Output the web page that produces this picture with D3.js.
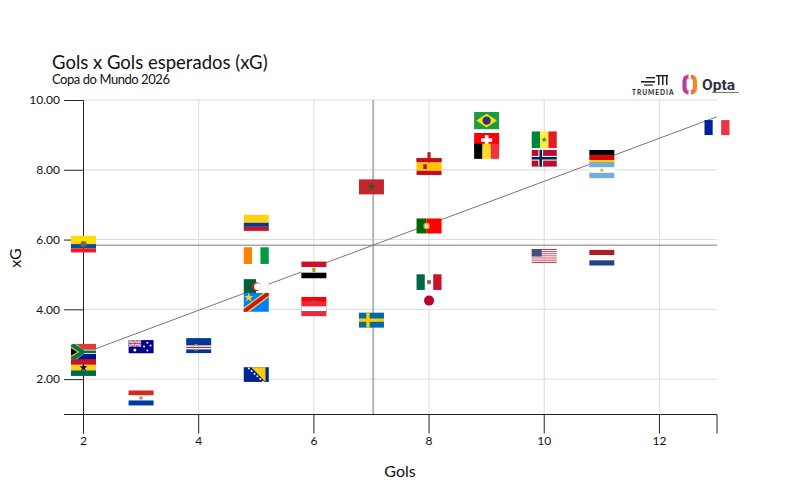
<!DOCTYPE html>
<html lang="pt">
<head>
<meta charset="utf-8">
<title>Gols x Gols esperados (xG)</title>
<script src="https://cdn.jsdelivr.net/npm/d3@7/dist/d3.min.js"></script>
<style>
  html, body { margin: 0; padding: 0; background: #fff; }
  svg { display: block; font-family: Lato, "Open Sans", sans-serif; }
  .axis text { font-family: Lato, "Open Sans", sans-serif; fill: #111; }
  .axis path, .axis line { stroke: #222; stroke-width: 1; }
</style>
</head>
<body>
<svg id="chart" width="800" height="500"></svg>
<script>
// Gols e xG por seleção, na ordem de desenho (as últimas ficam por cima)
const teams = ["Brasil","Suíça","Bélgica","Senegal","Noruega","Alemanha","Argentina","França",
  "Inglaterra","Espanha","Marrocos","Portugal","Colômbia","Equador","Costa do Marfim","Egito",
  "México","Japão","EUA","Holanda","Argélia","RD Congo","Croácia","Áustria","Suécia",
  "África do Sul","Gana","Austrália","Cabo Verde","Bósnia","Paraguai"];
const goals = [9,9,9,10,10,11,11,13,8,8,7,8,5,2,5,6,8,8,10,11,5,5,6,6,7,2,2,3,4,5,3];
const xGoals = [9.41,8.85,8.53,8.86,8.33,8.35,7.99,9.21,8.29,8.09,7.51,6.39,6.48,5.87,5.54,5.13,
  4.78,4.25,5.53,5.48,4.65,4.20,4.14,4.01,3.69,2.78,2.33,2.93,2.96,2.13,1.46];

const xTicks = [2,4,6,8,10,12];
const yTicks = [2,4,6,8,10];
const trendEnds = { goals: [2,13], xG: [2.74,9.52] };
const meanGoals = 7.03;
const meanXG = 5.84;

const svg = d3.select("#chart");
const x = d3.scaleLinear().domain([2,13]).range([83.5,717]);
const y = d3.scaleLinear().domain([1,10]).range([414,100]);

// Grade
const grid = svg.append("g").attr("stroke","#dcdcdc").attr("stroke-width",1);
grid.selectAll("line.v").data(xTicks.slice(1)).join("line")
  .attr("x1",d=>x(d)).attr("x2",d=>x(d)).attr("y1",y(10)).attr("y2",y(1));
grid.selectAll("line.h").data(yTicks).join("line")
  .attr("x1",x(2)).attr("x2",x(13)).attr("y1",d=>y(d)).attr("y2",d=>y(d));

// Médias e linha de tendência
svg.append("line").attr("x1",x(meanGoals)).attr("x2",x(meanGoals)).attr("y1",y(10)).attr("y2",y(1))
  .attr("stroke","#b4b4b4").attr("stroke-width",2);
svg.append("line").attr("x1",x(2)).attr("x2",x(13)).attr("y1",y(meanXG)).attr("y2",y(meanXG))
  .attr("stroke","#a8a8a8").attr("stroke-width",1.5);
svg.append("line").attr("x1",x(trendEnds.goals[0])).attr("x2",x(trendEnds.goals[1]))
  .attr("y1",y(trendEnds.xG[0])).attr("y2",y(trendEnds.xG[1]))
  .attr("stroke","#777").attr("stroke-width",1);

// Eixos
const tickLen = 19;
const yAxis = d3.axisLeft(y).tickValues(yTicks).tickFormat(d3.format(".2f"))
  .tickSize(tickLen).tickPadding(4);
svg.append("g").attr("class","axis").attr("transform",`translate(${x(2)-0.5},0)`).call(yAxis)
  .selectAll("text").attr("font-size",12);
const xAxis = d3.axisBottom(x).tickValues(xTicks).tickFormat(d3.format("d"))
  .tickSize(tickLen).tickPadding(3).offset(0);
svg.append("g").attr("class","axis").attr("transform",`translate(0,${y(1)+0.5})`).call(xAxis)
  .selectAll("text").attr("font-size",12);

// Desenho das bandeiras: cada função pinta em uma área w x h com origem no canto superior esquerdo
function hBands(g,w,h,colors,weights){
  const wt = weights || colors.map(()=>1), tot = d3.sum(wt); let py = 0;
  colors.forEach((c,i)=>{ const bh = h*wt[i]/tot;
    g.append("rect").attr("y",py).attr("width",w).attr("height",bh).attr("fill",c); py += bh; });
}
function vBands(g,w,h,colors,weights){
  const wt = weights || colors.map(()=>1), tot = d3.sum(wt); let px = 0;
  colors.forEach((c,i)=>{ const bw = w*wt[i]/tot;
    g.append("rect").attr("x",px).attr("width",bw).attr("height",h).attr("fill",c); px += bw; });
}
function solid(g,w,h,c){ g.append("rect").attr("width",w).attr("height",h).attr("fill",c); }
function star(g,cx,cy,r,c){
  g.append("path").attr("d",d3.symbol(d3.symbolStar).size(r*r*2.2)())
    .attr("transform",`translate(${cx},${cy})`).attr("fill",c);
}
function dot(g,cx,cy,r,c){ g.append("circle").attr("cx",cx).attr("cy",cy).attr("r",r).attr("fill",c); }
function box(g,bx,by,bw,bh,c){ g.append("rect").attr("x",bx).attr("y",by).attr("width",bw).attr("height",bh).attr("fill",c); }
function nordic(g,w,h,bg,cross,inner){
  solid(g,w,h,bg);
  const t = h*(inner?0.28:0.22), cx = w*0.36;
  box(g,cx-t/2,0,t,h,cross); box(g,0,h/2-t/2,w,t,cross);
  if(inner){ const s = t*0.55; box(g,cx-s/2,0,s,h,inner); box(g,0,h/2-s/2,w,s,inner); }
}
function poly(g,pts,c){ g.append("polygon").attr("points",pts.map(p=>p.join(",")).join(" ")).attr("fill",c); }

const flagDesigns = {
  "Brasil":{ratio:1.45,paint:(g,w,h)=>{ solid(g,w,h,"#1a9b46");
    poly(g,[[w*.09,h/2],[w/2,h*.1],[w*.91,h/2],[w/2,h*.9]],"#fedf00"); dot(g,w/2,h/2,h*.24,"#2a2f80"); }},
  "Suíça":{ratio:1.75,paint:(g,w,h)=>{ solid(g,w,h,"#ff0000");
    box(g,w/2-5.5,h/2-1.8,11,3.6,"#fff"); box(g,w/2-1.8,h/2-5,3.6,10,"#fff"); }},
  "Bélgica":{ratio:1.65,paint:(g,w,h)=>vBands(g,w,h,["#000","#fdda24","#ef3340"])},
  "Senegal":{ratio:1.5,paint:(g,w,h)=>{ vBands(g,w,h,["#00853f","#fdef42","#e31b23"]); star(g,w/2,h/2,2.2,"#3f8a3a"); }},
  "Noruega":{ratio:1.5,paint:(g,w,h)=>nordic(g,w,h,"#ba0c2f","#fff","#00205b")},
  "Alemanha":{ratio:1.65,paint:(g,w,h)=>hBands(g,w,h,["#000","#dd0000","#ffce00"])},
  "Argentina":{ratio:1.56,paint:(g,w,h)=>{ hBands(g,w,h,["#74acdf","#fff","#74acdf"]); dot(g,w/2,h/2,1.6,"#f6b40e"); }},
  "França":{ratio:1.67,paint:(g,w,h)=>vBands(g,w,h,["#002395","#fff","#ef3340"])},
  "Inglaterra":{ratio:1.67,paint:(g,w,h)=>{ solid(g,w,h,"#fff");
    box(g,w/2-1.6,0,3.2,h,"#ce1124"); box(g,0,h/2-1.6,w,3.2,"#ce1124"); }},
  "Espanha":{ratio:1.5,paint:(g,w,h)=>{ hBands(g,w,h,["#c60b1e","#ffc400","#c60b1e"],[1,2,1]);
    box(g,w*.27,h*.36,w*.14,h*.28,"#ad1519"); }},
  "Marrocos":{ratio:1.67,paint:(g,w,h)=>{ solid(g,w,h,"#c1272d"); star(g,w/2,h/2,3.2,"#2a5a34"); }},
  "Portugal":{ratio:1.67,paint:(g,w,h)=>{ vBands(g,w,h,["#006600","#ff0000"],[2,3]);
    dot(g,w*.4,h/2,3.2,"#d8b020"); dot(g,w*.4,h/2,2,"#e8d8d8"); }},
  "Colômbia":{ratio:1.55,paint:(g,w,h)=>hBands(g,w,h,["#fcd116","#003893","#ce1126"],[2,1,1])},
  "Equador":{ratio:1.5,paint:(g,w,h)=>{ hBands(g,w,h,["#ffdd00","#034ea2","#ed1c24"],[2,1,1]);
    dot(g,w/2,h/2,3,"#7a6a3a"); }},
  "Costa do Marfim":{ratio:1.5,paint:(g,w,h)=>vBands(g,w,h,["#ff8200","#fff","#009a44"])},
  "Egito":{ratio:1.5,paint:(g,w,h)=>{ hBands(g,w,h,["#ce1126","#fff","#000"]); box(g,w/2-1.5,h/2-2,3,4,"#c09300"); }},
  "México":{ratio:1.6,paint:(g,w,h)=>{ vBands(g,w,h,["#006847","#fff","#ce1126"]); dot(g,w/2,h/2,2.3,"#8c6f4a"); }},
  "Japão":{ratio:1.5,paint:(g,w,h)=>{ solid(g,w,h,"#fff"); dot(g,w/2,h/2,h*.3,"#bc002d"); }},
  "EUA":{ratio:1.8,paint:(g,w,h)=>{
    hBands(g,w,h,d3.range(13).map(i=>i%2?"#fff":"#c8323f")); box(g,0,0,w*.4,h*7/13,"#4c4b7e"); }},
  "Holanda":{ratio:1.6,paint:(g,w,h)=>hBands(g,w,h,["#ae1c28","#fff","#21468b"])},
  "Argélia":{ratio:1.67,paint:(g,w,h)=>{ vBands(g,w,h,["#006233","#fff"]);
    dot(g,w/2,h/2,4.4,"#d21034"); dot(g,w/2+1.2,h/2,3.4,"#fff"); }},
  "RD Congo":{ratio:1.33,paint:(g,w,h)=>{ solid(g,w,h,"#007fff");
    poly(g,[[0,h*.78],[w*.78,0],[w,0],[w,h*.22],[w*.22,h],[0,h]],"#f7d618");
    poly(g,[[0,h*.87],[w*.87,0],[w,0],[w,h*.13],[w*.13,h],[0,h]],"#ce1021");
    star(g,w*.2,h*.24,3.6,"#f7d618"); }},
  "Croácia":{ratio:1.67,paint:(g,w,h)=>{ hBands(g,w,h,["#ff0000","#fff","#171796"]);
    box(g,w/2-3,h*.25,6,2,"#5f6aa8"); }},
  "Áustria":{ratio:1.75,paint:(g,w,h)=>hBands(g,w,h,["#ed2939","#fff","#ed2939"])},
  "Suécia":{ratio:1.67,paint:(g,w,h)=>nordic(g,w,h,"#006aa7","#fecc02")},
  "África do Sul":{ratio:1.56,paint:(g,w,h)=>{ hBands(g,w,h,["#e03c31","#001489"]);
    poly(g,[[0,0],[w*.2,0],[w*.5,h*.37],[w,h*.37],[w,h*.63],[w*.5,h*.63],[w*.2,h],[0,h]],"#fff");
    poly(g,[[0,h*.06],[w*.08,0],[w*.16,0],[w*.54,h*.42],[w,h*.42],[w,h*.58],[w*.54,h*.58],[w*.16,h],[w*.08,h],[0,h*.94]],"#007749");
    poly(g,[[0,h*.16],[w*.33,h/2],[0,h*.84]],"#ffb81c");
    poly(g,[[0,h*.26],[w*.25,h/2],[0,h*.74]],"#000"); }},
  "Gana":{ratio:1.5,paint:(g,w,h)=>{ hBands(g,w,h,["#ce1126","#fcd116","#006b3f"]); star(g,w/2,h/2,3,"#000"); }},
  "Austrália":{ratio:1.9,paint:(g,w,h)=>{ solid(g,w,h,"#00008b");
    const cw = w*.5, ch = h*.5; box(g,0,0,cw,ch,"#8a8ac0");
    g.append("path").attr("d",`M0,0L${cw},${ch}M${cw},0L0,${ch}`).attr("stroke","#e8b4c0").attr("stroke-width",1.2);
    box(g,cw/2-1,0,2,ch,"#fff"); box(g,0,ch/2-1,cw,2,"#fff");
    box(g,cw/2-.5,0,1,ch,"#d8283c"); box(g,0,ch/2-.5,cw,1,"#d8283c");
    [[.25,.76,1.5],[.75,.2,1],[.75,.8,1],[.62,.48,1],[.88,.42,1]].forEach(s=>dot(g,w*s[0],h*s[1],s[2],"#fff")); }},
  "Cabo Verde":{ratio:1.67,paint:(g,w,h)=>{ hBands(g,w,h,["#003893","#fff","#cf2027","#fff","#003893"],[6,1,1,1,3]);
    g.append("circle").attr("cx",w*.4).attr("cy",h*.62).attr("r",3).attr("fill","none").attr("stroke","#b8a640").attr("stroke-width",.8); }},
  "Bósnia":{ratio:1.7,paint:(g,w,h)=>{ solid(g,w,h,"#002395");
    poly(g,[[w*.3,0],[w*.87,0],[w*.87,h]],"#fecb00");
    d3.range(6).forEach(i=>dot(g,w*(.2+i*.115),h*(.08+i*.18),1,"#fff")); }},
  "Paraguai":{ratio:1.67,paint:(g,w,h)=>{ hBands(g,w,h,["#d52b1e","#fff","#0038a8"]); dot(g,w/2,h/2,1.9,"#b0a090"); }}
};

// Bandeiras como marcas do gráfico
const flagWidth = 25;
const flagIndex = d3.range(teams.length);
svg.append("g").selectAll("g.flag").data(flagIndex).join("g").attr("class","flag")
  .each(function(i){
    const design = flagDesigns[teams[i]];
    const h = flagWidth/design.ratio;
    const g = d3.select(this)
      .attr("transform",`translate(${x(goals[i])-flagWidth/2},${y(xGoals[i])-h/2})`);
    g.append("title").text(`${teams[i]}: ${goals[i]} gols, ${xGoals[i].toFixed(2)} xG`);
    design.paint(g,flagWidth,h);
  });

// Textos
svg.append("text").attr("x",52).attr("y",68.5).attr("font-size",18.5).attr("fill","#111").text("Gols x Gols esperados (xG)");
svg.append("text").attr("x",52).attr("y",84).attr("font-size",13).attr("fill","#111").attr("letter-spacing",-0.45).text("Copa do Mundo 2026");
svg.append("text").attr("x",400).attr("y",477).attr("text-anchor","middle").attr("font-size",16).attr("fill","#111").text("Gols");
svg.append("text").attr("transform","translate(21,258) rotate(-90)").attr("text-anchor","middle").attr("font-size",16).attr("fill","#111").text("xG");

// Marca TruMedia
const tm = svg.append("g").attr("fill","#222");
box(tm,641,81,14,1.6,"#222"); box(tm,646,77,9,1.4,"#222"); box(tm,644,84.5,9,1.2,"#222");
box(tm,656,75,12,1.4,"#222"); box(tm,658,76,1.5,9,"#222"); box(tm,662,76,1.5,9,"#222"); box(tm,666,76,1.5,9,"#222");
tm.append("text").attr("x",632).attr("y",95).attr("font-size",6.6).attr("font-weight",700).attr("letter-spacing",1).text("TRUMEDIA");

// Marca Opta: anel em degradê com duas aberturas
const defs = svg.append("defs");
const grad = defs.append("linearGradient").attr("id","optaRing").attr("x1",0).attr("x2",1).attr("y1",0).attr("y2",0);
grad.append("stop").attr("offset","0%").attr("stop-color","#b03aa8");
grad.append("stop").attr("offset","50%").attr("stop-color","#e8506a");
grad.append("stop").attr("offset","100%").attr("stop-color","#f58a1f");
svg.append("rect").attr("x",684.5).attr("y",76.5).attr("width",10.5).attr("height",16).attr("rx",4.5)
  .attr("fill","none").attr("stroke","url(#optaRing)").attr("stroke-width",4.2);
box(svg,688.5,73.5,2.5,5,"#fff"); box(svg,688.5,90.5,2.5,5,"#fff");
svg.append("text").attr("x",702).attr("y",90).attr("font-family","Roboto, sans-serif").attr("font-size",15.5).attr("font-weight",700).attr("fill","#2b3440").text("Opta");
box(svg,712,92,27,1,"#777");
</script>
</body>
</html>
